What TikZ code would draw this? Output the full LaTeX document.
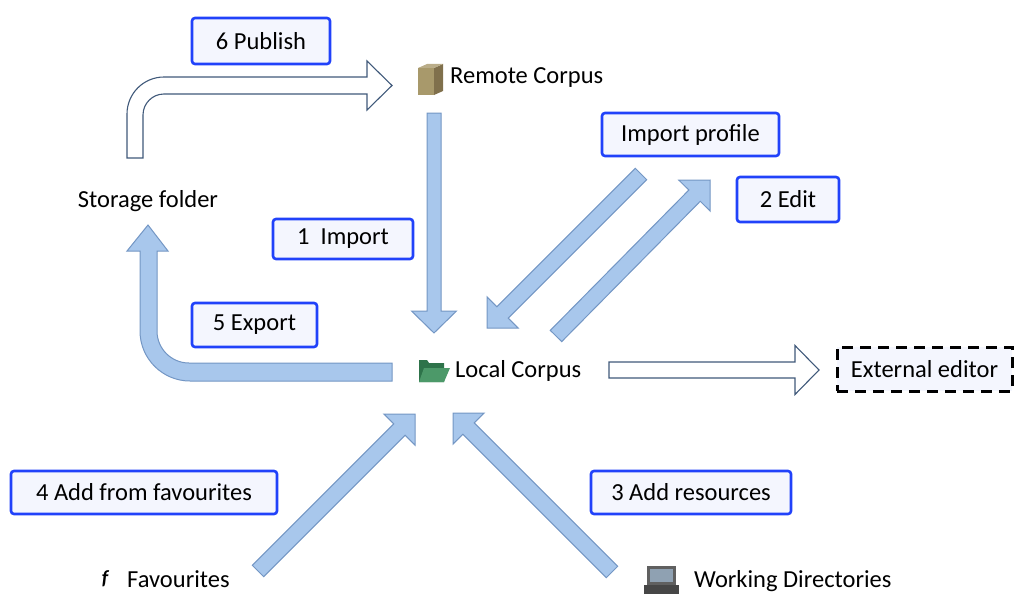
\documentclass[tikz,border=0pt]{standalone}
\usepackage{fontspec}
\setmainfont{Carlito}
\usetikzlibrary{calc}
\definecolor{boxblue}{rgb}{0.13,0.26,0.98}
\definecolor{boxfill}{rgb}{0.955,0.965,0.995}
\definecolor{arrowfill}{rgb}{0.66,0.78,0.925}
\definecolor{arrowline}{rgb}{0.45,0.59,0.77}
\definecolor{darkline}{rgb}{0.25,0.35,0.48}
\definecolor{boxtan}{rgb}{0.66,0.6,0.42}
\definecolor{boxdark}{rgb}{0.5,0.44,0.3}
\definecolor{folderback}{rgb}{0.18,0.45,0.29}
\definecolor{folderfront}{rgb}{0.3,0.6,0.41}
\definecolor{screenblue}{rgb}{0.56,0.63,0.7}
\tikzset{
  stepbox/.style={draw=boxblue,line width=2.6pt,fill=boxfill,rounded corners=3pt,inner sep=0pt,minimum height=43pt},
  lbl/.style={inner sep=0pt},
  bluearrow/.style={fill=arrowfill,draw=arrowline,line width=1pt,line join=miter},
  whitearrow/.style={fill=white,draw=darkline,line width=1.1pt,line join=miter}
}
% #2 tail, #3 tip, #4 half shaft, #5 head length, #6 half head
\newcommand{\blockarrow}[6][bluearrow]{%
  \coordinate (ba) at ($(#3)!#5!(#2)$);
  \draw[#1] ($(#2)!#4!90:(#3)$) -- ($(ba)!#4!-90:(#2)$) -- ($(ba)!#6!-90:(#2)$) -- (#3)
    -- ($(ba)!#6!90:(#2)$) -- ($(ba)!#4!90:(#2)$) -- ($(#2)!#4!-90:(#3)$) -- cycle;
}

\begin{document}
\begin{tikzpicture}[x=1pt,y=-1pt,font=\fontsize{24.5}{29}\selectfont]
\useasboundingbox (0,0) rectangle (1014,594);

% labels
\node[lbl,anchor=base] (storage) at (148,207) {Storage folder};
\node[lbl,anchor=base west] (remote) at (450,84) {Remote Corpus};
\node[lbl,anchor=base west] (local) at (455,377) {Local Corpus};
\node[lbl,anchor=base west] (fav) at (127,587) {Favourites};
\node[lbl,anchor=base west] (wd) at (694,587) {Working Directories};
\node[lbl,font=\bfseries\itshape\fontsize{20}{20}\selectfont] (favicon) at (105,579) {f};

% step boxes
\node[stepbox,minimum width=138pt,minimum height=46pt] (publish) at (261,41) {6 Publish};
\node[stepbox,minimum width=140pt,minimum height=40pt] (import) at (343,239) {1\ \ Import};
\node[stepbox,minimum width=125pt,minimum height=44pt] (export) at (254.5,325) {5 Export};
\node[stepbox,minimum width=177pt] (profile) at (690.5,134.5) {Import profile};
\node[stepbox,minimum width=102pt,minimum height=45pt] (edit) at (788,199.5) {2 Edit};
\node[stepbox,minimum width=266pt] (addfav) at (144,492.5) {4 Add from favourites};
\node[stepbox,minimum width=200pt] (addres) at (691,492.5) {3 Add resources};
\node[draw,line width=3pt,dash pattern=on 11pt off 7pt,fill=boxfill,inner sep=0pt,minimum width=175pt,minimum height=44pt] (ext) at (924.5,369) {External editor};

% icons
\fill[boxtan] (418,68) -- (434,68) -- (434,95) -- (418,95) -- cycle;
\fill[boxdark] (434,68) -- (443,64) -- (443,91) -- (434,95) -- cycle;
\fill[boxtan!80!white] (418,68) -- (427,64) -- (443,64) -- (434,68) -- cycle;
\fill[folderback] (419,360) -- (427,360) -- (429,363) -- (444,363) -- (444,382) -- (419,382) -- cycle;
\fill[folderfront] (424,368) -- (450,368) -- (444,382) -- (419,382) -- cycle;
\fill[gray!75!black] (647,566) rectangle (676,585);
\fill[screenblue] (650,569) rectangle (673,582);
\fill[gray!55!black] (644,585) -- (679,585) -- (679,594) -- (644,594) -- cycle;

% ends of the arrows
\coordinate (imp-tail) at (434,113);
\coordinate (imp-tip) at (434,333);
\coordinate (prof-tail) at (641,174);
\coordinate (prof-tip) at (487,328);
\coordinate (edit-tail) at (556,336);
\coordinate (edit-tip) at (710,180);
\coordinate (fav-tail) at (258,571);
\coordinate (fav-tip) at (415,414);
\coordinate (wd-tail) at (612,572);
\coordinate (wd-tip) at (453,413);
\coordinate (ext-tail) at (609,370);
\coordinate (ext-tip) at (819,370);

\blockarrow{imp-tail}{imp-tip}{7pt}{22pt}{22.5pt}
\blockarrow{prof-tail}{prof-tip}{8pt}{22pt}{22pt}
\blockarrow{edit-tail}{edit-tip}{8pt}{22pt}{22pt}
\blockarrow{fav-tail}{fav-tip}{8pt}{22pt}{22pt}
\blockarrow{wd-tail}{wd-tip}{8pt}{22pt}{22pt}
\blockarrow[whitearrow]{ext-tail}{ext-tip}{8pt}{24pt}{24.5pt}

% bent arrows
\draw[whitearrow] (127,158) -- (127,114) arc (180:270:37) -- (367,77) -- (367,61) -- (392,85.5)
  -- (367,110) -- (367,94) -- (164,94) arc (270:180:21) -- (143,158) -- cycle;
\draw[bluearrow] (392,363) -- (189,363) arc (90:180:32) -- (157,251) -- (168,251) -- (148,225)
  -- (127,251) -- (140,251) -- (140,331) arc (180:90:50) -- (392,381) -- cycle;
\end{tikzpicture}
\end{document}
